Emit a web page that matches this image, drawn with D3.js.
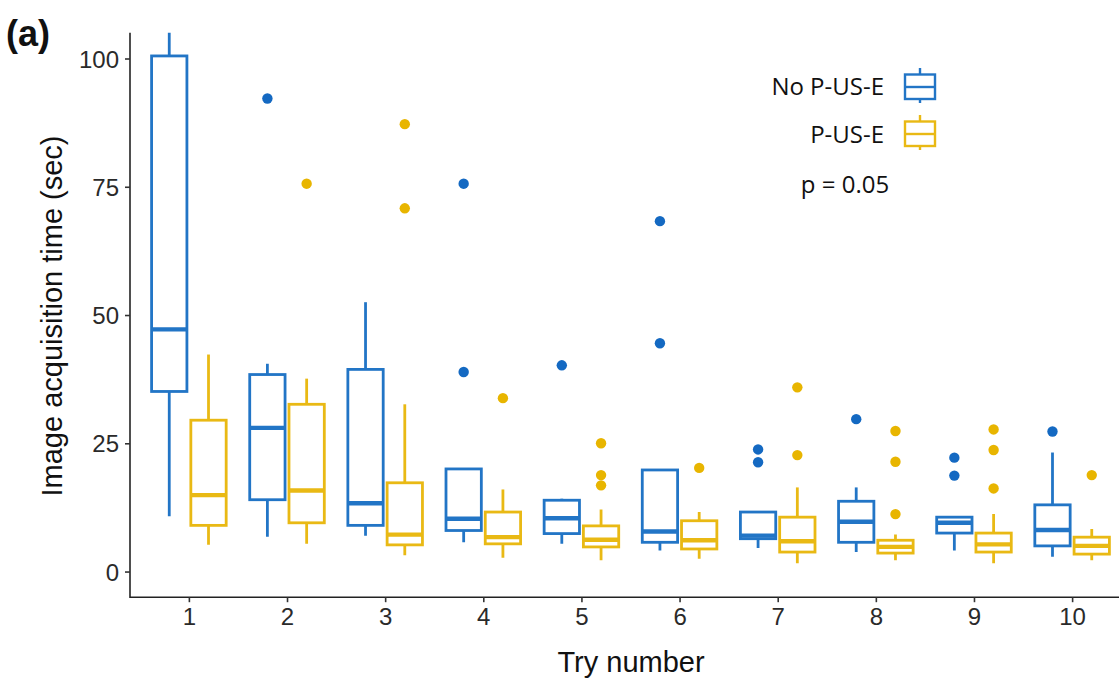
<!DOCTYPE html>
<html><head><meta charset="utf-8">
<script src="https://cdn.jsdelivr.net/npm/d3@7"></script>
<style>body{margin:0;background:#fff}svg{display:block}</style>
</head><body>
<svg id="c" width="1119" height="680"></svg>
<script>
// ---- data ----
const tries = [1,2,3,4,5,6,7,8,9,10];
const groups = ["No P-US-E","P-US-E"];
const yTicks = [0,25,50,75,100];
// No P-US-E: [lowWhisker, q1, median, q3, highWhisker]
const noLow  = [10.8, 6.8, 7.0, 5.7, 5.4, 4.1, 4.6, 3.8, 4.1, 2.9];
const noQ1   = [35.1,14.0, 9.0, 8.0, 7.4, 5.7, 6.4, 5.7, 7.5, 5.0];
const noMed  = [47.2,28.0,13.3,10.3,10.4, 7.8, 7.0, 9.7, 9.5, 8.1];
const noQ3   = [100.5,38.4,39.4,20.0,13.9,19.8,11.6,13.7,10.6,13.0];
const noHigh = [112,40.5,52.5,20.0,14.2,19.8,11.6,16.4,10.6,23.2];
const noOut  = [[],[92.2],[],[75.6,38.9],[40.2],[68.3,44.5],[23.8,21.3],[29.7],[22.2,18.7],[27.3]];
// P-US-E
const pLow   = [5.2, 5.4, 3.2, 2.7, 2.2, 2.5, 1.6, 2.2, 1.6, 2.2];
const pQ1    = [9.0, 9.5, 5.2, 5.4, 4.8, 4.4, 3.8, 3.6, 3.8, 3.4];
const pMed   = [14.9,15.8, 7.2, 6.7, 6.2, 6.1, 5.9, 4.8, 5.3, 5.0];
const pQ3    = [29.5,32.6,17.3,11.6, 8.9, 9.9,10.6, 6.1, 7.5, 6.7];
const pHigh  = [42.3,37.6,32.6,16.0,12.1,11.6,16.4, 7.2,11.2, 8.3];
const pOut   = [[],[75.6],[87.2,70.8],[33.8],[25.0,18.8,16.8],[20.2],[35.9,22.7],[27.4,21.4,11.2],[27.7,23.7,16.2],[18.8]];

const blue = "#2275c6", yellow = "#e9b914";
const blueDot = "#1469c2", yellowDot = "#e8b500";

const svg = d3.select("#c");
const x = d3.scaleLinear().domain([0.4,10.6]).range([130,1131]);
const y = d3.scaleLinear().domain([-5,105]).range([597.2,32.85]);

svg.append("clipPath").attr("id","panel").append("rect")
  .attr("x",130).attr("y",y(105)).attr("width",x(10.6)-130).attr("height",y(-5)-y(105));

const series = [
  {name:groups[0], off:-0.2, col:blue, dot:blueDot, lo:noLow,q1:noQ1,med:noMed,q3:noQ3,hi:noHigh,out:noOut},
  {name:groups[1], off: 0.2, col:yellow, dot:yellowDot, lo:pLow,q1:pQ1,med:pMed,q3:pQ3,hi:pHigh,out:pOut}
];
const bw = 0.36;
const plot = svg.append("g").attr("clip-path","url(#panel)");
series.forEach(s=>{
  const g = plot.append("g");
  tries.forEach((t,i)=>{
    const cx = x(t+s.off);
    const l = x(t+s.off-bw/2), r = x(t+s.off+bw/2);
    g.append("line").attr("x1",cx).attr("x2",cx).attr("y1",y(s.q3[i])).attr("y2",y(s.hi[i]))
      .attr("stroke",s.col).attr("stroke-width",2.8);
    g.append("line").attr("x1",cx).attr("x2",cx).attr("y1",y(s.q1[i])).attr("y2",y(s.lo[i]))
      .attr("stroke",s.col).attr("stroke-width",2.8);
    g.append("rect").attr("x",l).attr("width",r-l).attr("y",y(s.q3[i])).attr("height",y(s.q1[i])-y(s.q3[i]))
      .attr("fill","#fff").attr("stroke",s.col).attr("stroke-width",2.8);
    g.append("line").attr("x1",l).attr("x2",r).attr("y1",y(s.med[i])).attr("y2",y(s.med[i]))
      .attr("stroke",s.col).attr("stroke-width",4.4);
    s.out[i].forEach(v=>{
      g.append("circle").attr("cx",cx).attr("cy",y(v)).attr("r",5.2).attr("fill",s.dot);
    });
  });
});

// axes
const ax = svg.append("g").attr("transform","translate(0,"+y(-5)+")")
  .call(d3.axisBottom(x).tickValues(tries).tickSize(5).tickSizeOuter(0).tickPadding(6));
const ay = svg.append("g").attr("transform","translate(130,0)")
  .call(d3.axisLeft(y).tickValues(yTicks).tickSize(5).tickSizeOuter(0).tickPadding(6));
[ax,ay].forEach(a=>{
  a.select(".domain").attr("stroke","#222").attr("stroke-width",1.6);
  a.selectAll(".tick line").attr("stroke","#333").attr("stroke-width",1.6);
  a.selectAll(".tick text").attr("font-family","Liberation Sans, Arial, sans-serif")
    .attr("font-size",24).attr("fill","#2a2a2a");
});
ay.selectAll(".tick text").attr("dy","0.36em");
ay.select(".domain").attr("d","M0,"+y(105)+"V"+(y(-5)+0.8));
ax.select(".domain").attr("d","M130,0H1131");

svg.append("text").attr("x",631).attr("y",672).attr("text-anchor","middle")
  .attr("font-family","Liberation Sans, Arial, sans-serif").attr("font-size",29).attr("fill","#111")
  .text("Try number");
svg.append("text").attr("transform","translate(62,316) rotate(-90)").attr("text-anchor","middle")
  .attr("font-family","Liberation Sans, Arial, sans-serif").attr("font-size",29).attr("fill","#111")
  .text("Image acquisition time (sec)");
svg.append("text").attr("x",6).attr("y",46).attr("font-family","Liberation Sans, Arial, sans-serif")
  .attr("font-weight","bold").attr("font-size",36).attr("fill","#111").text("(a)");

// legend
const leg = [{t:groups[0], c:blue, cy:87, by:95},{t:groups[1], c:yellow, cy:134, by:143}];
leg.forEach(d=>{
  const g = svg.append("g");
  g.append("line").attr("x1",920).attr("x2",920).attr("y1",d.cy-19).attr("y2",d.cy+16).attr("stroke",d.c).attr("stroke-width",2.4);
  g.append("rect").attr("x",905).attr("y",d.cy-12.5).attr("width",30).attr("height",24.5)
    .attr("fill","#fff").attr("stroke",d.c).attr("stroke-width",2.4);
  g.append("line").attr("x1",905).attr("x2",935).attr("y1",d.cy).attr("y2",d.cy).attr("stroke",d.c).attr("stroke-width",2.4);
  g.append("text").attr("x",884).attr("y",d.by).attr("text-anchor","end")
    .attr("font-family","Open Sans, sans-serif").attr("font-size",24).attr("fill","#111").text(d.t);
});
svg.append("text").attr("x",845).attr("y",193).attr("text-anchor","middle")
  .attr("font-family","Open Sans, sans-serif").attr("font-size",24).attr("fill","#111").text("p = 0.05");
</script>
</body></html>
